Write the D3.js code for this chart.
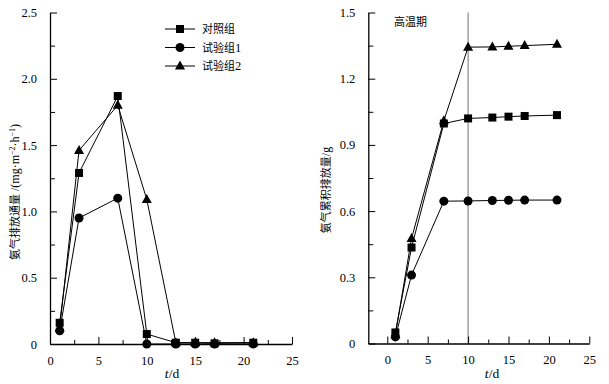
<!DOCTYPE html>
<html>
<head>
<meta charset="utf-8">
<script src="https://cdn.jsdelivr.net/npm/d3@7"></script>
<style>
  body { margin: 0; background: #fff; }
  svg { display: block; }
  .cn { font-family: "Noto Sans CJK SC", sans-serif; font-size: 11px; fill: #000; }
</style>
</head>
<body>
<div id="chart"></div>
<script>
const days = [1, 3, 7, 10, 13, 15, 17, 21];
const seriesNames = ["对照组", "试验组1", "试验组2"];
const markers = ["square", "circle", "triangle"];

// 氨气排放通量
const fluxCtrl = [0.16, 1.29, 1.87, 0.075, 0.01, 0.01, 0.005, 0.01];
const fluxT1 = [0.10, 0.95, 1.10, 0.0, 0.0, 0.0, 0.0, 0.0];
const fluxT2 = [0.12, 1.46, 1.80, 1.09, 0.01, 0.01, 0.01, 0.01];

// 氨气累积排放量
const cumCtrl = [0.05, 0.435, 0.997, 1.02, 1.024, 1.028, 1.031, 1.035];
const cumT1 = [0.03, 0.31, 0.645, 0.646, 0.648, 0.649, 0.65, 0.65];
const cumT2 = [0.04, 0.476, 1.01, 1.343, 1.344, 1.347, 1.35, 1.356];

const leftYTicks = [0, 0.5, 1.0, 1.5, 2.0, 2.5];
const rightYTicks = [0, 0.3, 0.6, 0.9, 1.2, 1.5];
const xTicks = [0, 5, 10, 15, 20, 25];

const SERIF = '"Liberation Serif", "Times New Roman", serif';

const svg = d3.select("#chart").append("svg")
    .attr("width", 609).attr("height", 384);

const fmt = d => d === 0 ? "0" : d3.format(".1f")(d);

function drawMarker(g, type, cx, cy) {
    if (type === "square") {
        g.append("rect").attr("x", cx - 4).attr("y", cy - 4)
            .attr("width", 8).attr("height", 8).attr("fill", "#000");
    } else if (type === "circle") {
        g.append("circle").attr("cx", cx).attr("cy", cy).attr("r", 4.5).attr("fill", "#000");
    } else {
        g.append("path").attr("d", `M${cx},${cy - 5.5}L${cx + 5},${cy + 3.5}L${cx - 5},${cy + 3.5}Z`)
            .attr("fill", "#000");
    }
}

function serifLabels(a) {
    a.selectAll(".tick text")
        .style("font-family", SERIF).style("font-size", "12.5px").attr("fill", "#000");
}

function panel(opts) {
    const x = d3.scaleLinear().domain(opts.xDomain).range(opts.xRange);
    const y = d3.scaleLinear().domain(opts.yDomain).range(opts.yRange);
    const g = svg.append("g");
    const y0 = opts.yRange[0];
    const x0 = opts.xRange[0];

    if (opts.vline != null) {
        g.append("line")
            .attr("x1", x(opts.vline)).attr("x2", x(opts.vline))
            .attr("y1", y.range()[1]).attr("y2", y0)
            .attr("stroke", "#888").attr("stroke-width", 1.2);
    }

    // minor ticks
    const xMinor = d3.range(0, 25.01, 2.5).filter(v => v % 5 !== 0);
    g.append("g").attr("transform", `translate(0,${y0})`)
        .call(d3.axisBottom(x).tickValues(xMinor).tickSize(-4).tickSizeOuter(0).tickFormat(""))
        .call(a => a.select(".domain").remove());
    const yStep = opts.yTicks[1] - opts.yTicks[0];
    const yMinor = opts.yTicks.slice(0, -1).map(v => v + yStep / 2);
    g.append("g").attr("transform", `translate(${x0},0)`)
        .call(d3.axisLeft(y).tickValues(yMinor).tickSize(-5).tickSizeOuter(0).tickFormat(""))
        .call(a => a.select(".domain").remove());

    // major axes
    g.append("g").attr("transform", `translate(0,${y0})`)
        .call(d3.axisBottom(x).tickValues(xTicks).tickSize(-7).tickSizeOuter(0).tickPadding(12).tickFormat(d3.format("d")))
        .call(serifLabels)
        .call(a => a.select(".domain").attr("stroke-width", 1.3));
    g.append("g").attr("transform", `translate(${x0},0)`)
        .call(d3.axisLeft(y).tickValues(opts.yTicks).tickSize(-7).tickSizeOuter(0).tickPadding(13).tickFormat(fmt))
        .call(serifLabels)
        .call(a => a.select(".domain").attr("stroke-width", 1.3));

    // series
    const line = d3.line().x(d => x(d[0])).y(d => y(d[1]));
    opts.series.forEach((vals, i) => {
        const pts = days.map((d, j) => [d, vals[j]]);
        g.append("path").datum(pts).attr("d", line)
            .attr("fill", "none").attr("stroke", "#000").attr("stroke-width", 1);
        pts.forEach(p => drawMarker(g, markers[i], x(p[0]), y(p[1])));
    });

    // x label
    const xl = g.append("text").attr("x", opts.xLabelX).attr("y", 378)
        .attr("text-anchor", "middle")
        .style("font-family", SERIF).style("font-size", "13.5px");
    xl.append("tspan").style("font-style", "italic").text("t");
    xl.append("tspan").text("/d");

    // y label
    const yl = g.append("text").attr("class", "cn")
        .attr("transform", `translate(${opts.yLabelX},${opts.yLabelY}) rotate(-90)`)
        .attr("text-anchor", "middle");
    yl.append("tspan").text(opts.yLabel[0]);
    const unit = yl.append("tspan").style("font-family", SERIF).style("font-size", "12px");
    opts.yLabel[1].forEach(part => {
        const t = unit.append("tspan").text(part.t);
        if (part.sup) t.style("font-size", "8px").attr("dy", part.dy);
        else if (part.dy) t.attr("dy", part.dy);
    });
    return {x, y, g};
}

panel({
    xDomain: [0, 25], xRange: [50, 292],
    yDomain: [0, 2.5], yRange: [344, 12.5],
    yTicks: leftYTicks,
    series: [fluxCtrl, fluxT1, fluxT2],
    xLabelX: 172, yLabelX: 19, yLabelY: 192,
    yLabel: ["氨气排放通量", [
        {t: " /(mg·m"}, {t: "−2", sup: true, dy: -4}, {t: "·h", dy: 4},
        {t: "−1", sup: true, dy: -4}, {t: ")", dy: 4}
    ]]
});

const right = panel({
    xDomain: [-2.35, 25], xRange: [368.3, 589.3],
    yDomain: [0, 1.5], yRange: [343.5, 12.5],
    yTicks: rightYTicks,
    series: [cumCtrl, cumT1, cumT2],
    vline: 10,
    xLabelX: 492, yLabelX: 330, yLabelY: 190,
    yLabel: ["氨气累积排放量", [{t: "/g"}]]
});

right.g.append("text").attr("class", "cn")
    .attr("x", 394).attr("y", 26).text("高温期");

// legend
const leg = svg.append("g");
seriesNames.forEach((name, i) => {
    const ly = 29 + i * 18.5;
    leg.append("line").attr("x1", 165).attr("x2", 195).attr("y1", ly).attr("y2", ly)
        .attr("stroke", "#000").attr("stroke-width", 1);
    drawMarker(leg, markers[i], 180, ly);
    const t = leg.append("text").attr("class", "cn").attr("x", 202).attr("y", ly + 4);
    const m = name.match(/^(\D+)(\d*)$/);
    t.append("tspan").text(m[1]);
    if (m[2]) t.append("tspan").style("font-family", SERIF).style("font-size", "12.5px").text(m[2]);
});
</script>
</body>
</html>
